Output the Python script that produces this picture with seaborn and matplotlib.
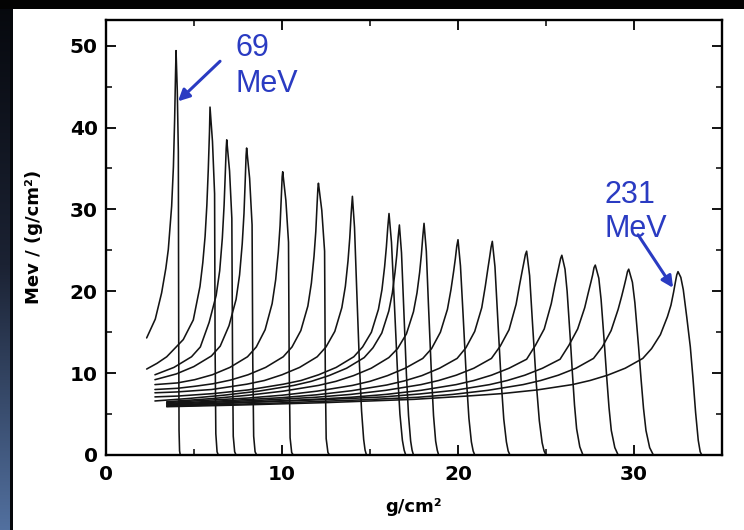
import matplotlib
matplotlib.use("Agg")
import matplotlib.pyplot as plt
from matplotlib.colors import LinearSegmentedColormap
from matplotlib.patches import Rectangle
from matplotlib.ticker import MultipleLocator
import numpy as np
import pandas as pd
import seaborn as sns

# Depth-dose (Bragg) curves: depth in g/cm^2, stopping power in MeV/(g/cm^2),
# from the 69 MeV beam (c01) up to the 231 MeV beam (c17).
c01_x = [2.31, 2.8, 3.16, 3.4, 3.54, 3.73, 3.83, 3.9, 3.95, 3.98, 4.05, 4.11, 4.13, 4.15, 4.18, 4.22]
c01_y = [14.3, 16.6, 19.8, 22.8, 25.1, 30.4, 35.2, 41.0, 46.5, 49.4, 44.5, 37.1, 14.8, 3.0, 0.5, 0.0]

c02_x = [2.31, 2.9, 3.45, 4.39, 4.96, 5.34, 5.5, 5.63, 5.73, 5.81, 5.88, 5.91, 6.05, 6.17, 6.20, 6.24, 6.31, 6.38]
c02_y = [10.5, 11.2, 12.0, 14.1, 16.5, 20.6, 23.5, 26.7, 30.5, 34.8, 39.5, 42.5, 38.3, 31.9, 12.8, 2.6, 0.4, 0.0]

c03_x = [2.78, 3.86, 4.86, 5.36, 5.86, 6.26, 6.46, 6.61, 6.71, 6.78, 6.83, 6.86, 7.02, 7.15, 7.19, 7.23, 7.31, 7.39]
c03_y = [9.8, 10.7, 12.0, 13.2, 16.2, 19.5, 22.5, 26.5, 30.5, 34.5, 37.5, 38.5, 34.7, 28.9, 11.6, 2.3, 0.4, 0.0]

c04_x = [2.78, 3.99, 4.99, 5.99, 6.49, 6.99, 7.39, 7.59, 7.74, 7.84, 7.91, 7.96, 7.99, 8.16, 8.30, 8.34, 8.39, 8.47, 8.56]
c04_y = [9.2, 9.9, 10.8, 12.1, 13.3, 15.8, 19.0, 22.0, 25.8, 29.5, 33.5, 36.6, 37.5, 33.8, 28.1, 11.3, 2.3, 0.4, 0.0]

c05_x = [2.78, 4.04, 5.04, 6.04, 7.04, 8.04, 8.54, 9.04, 9.44, 9.64, 9.79, 9.89, 9.96, 10.01, 10.04,
         10.22, 10.37, 10.41, 10.46, 10.55, 10.64]
c05_y = [8.6, 8.8, 9.2, 9.8, 10.7, 12.0, 13.2, 15.3, 18.5, 21.4, 24.8, 28.0, 31.5, 34.0, 34.6,
         31.1, 26.0, 10.4, 2.1, 0.3, 0.0]

c06_x = [2.78, 4.07, 5.07, 6.07, 7.07, 8.07, 9.07, 10.07, 10.57, 11.07, 11.47, 11.67, 11.82, 11.92, 11.99,
         12.04, 12.07, 12.26, 12.42, 12.46, 12.51, 12.61, 12.70]
c06_y = [8.0, 8.15, 8.4, 8.7, 9.15, 9.8, 10.7, 12.0, 13.2, 15.2, 18.2, 21.0, 24.3, 27.3, 30.5,
         32.6, 33.2, 29.9, 24.9, 10.0, 2.0, 0.3, 0.0]

c07_x = [2.78, 4.0, 6.0, 8.0, 9.0, 10.0, 11.0, 12.0, 12.5, 13.0, 13.4, 13.6, 13.75, 13.85, 13.93, 14.0,
         14.12, 14.24, 14.40, 14.52, 14.64, 14.72, 14.80]
c07_y = [7.6, 7.7, 8.0, 8.65, 9.1, 9.8, 10.7, 12.0, 13.2, 15.1, 18.0, 20.6, 23.7, 26.5, 29.5, 31.6,
         27.8, 20.5, 11.1, 5.4, 1.9, 0.6, 0.0]

c08_x = [2.78, 4.08, 6.08, 8.08, 10.08, 11.08, 12.08, 13.08, 14.08, 14.58, 15.08, 15.48, 15.68, 15.83,
         15.93, 16.01, 16.08, 16.22, 16.37, 16.56, 16.70, 16.84, 16.94, 17.03]
c08_y = [7.1, 7.2, 7.5, 7.95, 8.65, 9.1, 9.8, 10.7, 12.0, 13.2, 15.0, 17.8, 20.2, 23.0,
         25.4, 27.8, 29.5, 26.0, 19.2, 10.3, 5.0, 1.8, 0.6, 0.0]

c09_x = [2.78, 4.67, 6.67, 8.67, 10.67, 11.67, 12.67, 13.67, 14.67, 15.17, 15.67, 16.07, 16.27, 16.42,
         16.52, 16.60, 16.67, 16.79, 16.91, 17.07, 17.19, 17.31, 17.39, 17.47]
c09_y = [6.6, 6.9, 7.3, 7.8, 8.5, 9.0, 9.7, 10.6, 11.9, 13.1, 14.9, 17.6, 19.8, 22.3,
         24.4, 26.6, 28.1, 24.7, 18.3, 9.8, 4.8, 1.7, 0.6, 0.0]

c10_x = [3.45, 6.07, 8.07, 10.07, 12.07, 13.07, 14.07, 15.07, 16.07, 16.57, 17.07, 17.47, 17.67, 17.82,
         17.92, 18.00, 18.07, 18.20, 18.32, 18.49, 18.61, 18.73, 18.82, 18.90]
c10_y = [6.5, 6.9, 7.3, 7.8, 8.5, 9.0, 9.7, 10.6, 11.9, 13.0, 14.8, 17.5, 19.8, 22.3,
         24.5, 26.7, 28.3, 24.9, 18.4, 9.9, 4.8, 1.7, 0.6, 0.0]

c11_x = [3.45, 5.0, 8.0, 10.0, 12.0, 14.0, 15.0, 16.0, 17.0, 18.0, 18.5, 19.0, 19.4, 19.6, 19.75, 19.85,
         19.93, 20.0, 20.14, 20.29, 20.48, 20.62, 20.76, 20.86, 20.95]
c11_y = [6.4, 6.6, 6.95, 7.3, 7.8, 8.5, 9.0, 9.7, 10.6, 11.8, 13.0, 15.0, 17.8, 20.2, 22.4, 24.0,
         25.5, 26.3, 23.1, 17.1, 9.2, 4.5, 1.6, 0.5, 0.0]

c12_x = [3.45, 6.95, 9.95, 11.95, 13.95, 15.95, 16.95, 17.95, 18.95, 19.95, 20.45, 20.95, 21.35, 21.55,
         21.70, 21.80, 21.88, 21.95, 22.10, 22.25, 22.45, 22.60, 22.75, 22.85, 22.95]
c12_y = [6.3, 6.65, 7.0, 7.35, 7.85, 8.55, 9.05, 9.7, 10.6, 11.8, 13.1, 15.1, 18.0, 20.6,
         22.8, 24.2, 25.4, 26.1, 23.0, 17.0, 9.1, 4.4, 1.6, 0.5, 0.0]

c13_x = [3.45, 8.9, 11.9, 13.9, 15.9, 17.9, 18.9, 19.9, 20.9, 21.9, 22.4, 22.9, 23.3, 23.5, 23.65, 23.75,
         23.83, 23.90, 24.07, 24.23, 24.45, 24.62, 24.78, 24.89, 25.00]
c13_y = [6.2, 6.7, 7.05, 7.4, 7.9, 8.6, 9.1, 9.75, 10.6, 11.8, 13.3, 15.3, 18.4, 20.8, 22.5, 23.6,
         24.5, 24.9, 21.9, 16.2, 8.7, 4.2, 1.5, 0.5, 0.0]

c14_x = [3.45, 10.9, 13.9, 15.9, 17.9, 19.9, 20.9, 21.9, 22.9, 23.9, 24.4, 24.9, 25.3, 25.5, 25.65, 25.75,
         25.83, 25.90, 26.08, 26.20, 26.38, 26.50, 26.62, 26.74, 26.92, 27.10]
c14_y = [6.1, 6.7, 7.05, 7.4, 7.9, 8.6, 9.1, 9.75, 10.6, 11.7, 13.4, 15.4, 18.5, 20.7, 22.2, 23.2,
         24.0, 24.4, 22.7, 20.0, 14.2, 10.0, 6.1, 3.2, 1.0, 0.0]

c15_x = [3.45, 7.8, 12.8, 15.8, 17.8, 19.8, 21.8, 22.8, 23.8, 24.8, 25.8, 26.3, 26.8, 27.2, 27.4, 27.55,
         27.65, 27.73, 27.80, 28.00, 28.13, 28.32, 28.45, 28.58, 28.71, 28.91, 29.10]
c15_y = [6.0, 6.4, 6.8, 7.1, 7.45, 7.9, 8.6, 9.1, 9.75, 10.6, 11.7, 13.4, 15.4, 18.0, 19.8, 21.1,
         22.0, 22.9, 23.2, 21.6, 19.0, 13.5, 9.5, 5.8, 3.0, 0.9, 0.0]

c16_x = [3.45, 9.7, 14.7, 17.7, 19.7, 21.7, 23.7, 24.7, 25.7, 26.7, 27.7, 28.2, 28.7, 29.1, 29.3, 29.45,
         29.55, 29.63, 29.70, 29.91, 30.05, 30.26, 30.40, 30.54, 30.68, 30.89, 31.10]
c16_y = [5.95, 6.35, 6.75, 7.05, 7.4, 7.9, 8.6, 9.1, 9.75, 10.6, 11.8, 13.2, 15.2, 17.8, 19.4, 20.7,
         21.6, 22.4, 22.7, 21.1, 18.6, 13.2, 9.3, 5.7, 3.0, 0.9, 0.0]

c17_x = [3.45, 7.5, 12.5, 17.5, 20.5, 22.5, 24.5, 26.5, 27.5, 28.5, 29.5, 30.5, 31.0, 31.5, 31.9, 32.1,
         32.25, 32.35, 32.43, 32.50, 32.66, 32.80, 33.00, 33.20, 33.35, 33.50, 33.65, 33.76, 33.85]
c17_y = [5.9, 6.1, 6.4, 6.8, 7.2, 7.5, 7.95, 8.6, 9.1, 9.75, 10.6, 11.8, 13.0, 14.7, 16.9, 18.3,
         19.9, 21.1, 22.0, 22.4, 21.7, 20.2, 16.8, 13.2, 9.4, 5.2, 1.8, 0.4, 0.0]

x_ticks = [0, 10, 20, 30]
y_ticks = [0, 10, 20, 30, 40, 50]
x_tick_labels = ["0", "10", "20", "30"]
y_tick_labels = ["0", "10", "20", "30", "40", "50"]

low_label = ("69", "MeV")
high_label = ("231", "MeV")

curves = [
    (c01_x, c01_y), (c02_x, c02_y), (c03_x, c03_y), (c04_x, c04_y), (c05_x, c05_y),
    (c06_x, c06_y), (c07_x, c07_y), (c08_x, c08_y), (c09_x, c09_y), (c10_x, c10_y),
    (c11_x, c11_y), (c12_x, c12_y), (c13_x, c13_y), (c14_x, c14_y), (c15_x, c15_y),
    (c16_x, c16_y), (c17_x, c17_y),
]
frames = []
for i, (xs, ys) in enumerate(curves):
    frames.append(pd.DataFrame({"depth": xs, "dose": ys, "curve": i}))
df = pd.concat(frames, ignore_index=True)

sns.set_style("ticks")
plt.rcParams["font.family"] = ["DejaVu Sans"]
plt.rcParams["text.color"] = "black"
plt.rcParams["axes.labelcolor"] = "black"
plt.rcParams["xtick.color"] = "black"
plt.rcParams["ytick.color"] = "black"

W, H = 744, 530
fig = plt.figure(figsize=(W / 100, H / 100), dpi=100, facecolor="white")

# slide frame: dark band on top, blue gradient strip on the left
strip = fig.add_axes([0, 0, 10 / W, 1])
grad = np.linspace(0, 1, 256).reshape(-1, 1)
cmap = LinearSegmentedColormap.from_list("strip", ["#06080d", "#1b2233", "#52709f"])
strip.imshow(grad, aspect="auto", cmap=cmap, extent=[0, 1, 0, 1], origin="upper")
strip.set_axis_off()
fig.patches.append(Rectangle((10 / W, 0), 2.5 / W, 1, transform=fig.transFigure,
                             facecolor="#05070a", edgecolor="none", zorder=5))
fig.patches.append(Rectangle((0, 1 - 9 / H), 1, 9 / H, transform=fig.transFigure,
                             facecolor="#030303", edgecolor="none", zorder=5))

ax = fig.add_axes([106 / W, 1 - 455 / H, 616 / W, 435.5 / H])
ax.set_facecolor("white")

sns.lineplot(data=df, x="depth", y="dose", units="curve", estimator=None, sort=False,
             color="#141414", linewidth=1.15, ax=ax, legend=False)

ax.set_xlim(0, 35)
ax.set_ylim(0, 53.2)

ax.set_xticks(x_ticks, labels=x_tick_labels, fontsize=14.5, fontweight="bold", color="black")
ax.set_yticks(y_ticks, labels=y_tick_labels, fontsize=14.5, fontweight="bold", color="black")
ax.xaxis.set_minor_locator(MultipleLocator(5))
ax.yaxis.set_minor_locator(MultipleLocator(5))
ax.tick_params(which="major", direction="in", length=7, width=1.3, color="black",
               labelcolor="black", top=True, right=True)
ax.tick_params(axis="x", which="major", pad=7)
ax.tick_params(axis="y", which="major", pad=6)
ax.tick_params(which="minor", direction="in", length=4, width=1.1, color="black",
               top=True, right=True)
for s in ax.spines.values():
    s.set_visible(True)
    s.set_color("black")
    s.set_linewidth(1.7)

ax.set_xlabel("g/cm²", fontsize=13, fontweight="bold", labelpad=10, color="black")
ax.set_ylabel("Mev / (g/cm²)", fontsize=13, fontweight="bold", labelpad=19, color="black")

blue = "#2a3bc2"
afont = dict(color=blue, fontsize=22, family=["Liberation Sans", "DejaVu Sans"], va="baseline")
ax.text(7.33, 48.7, low_label[0], **afont)
ax.text(7.33, 44.3, low_label[1], **afont)
ax.text(28.35, 30.8, high_label[0], **afont)
ax.text(28.35, 26.6, high_label[1], **afont)

arrow = dict(arrowstyle="-|>", color=blue, lw=2.2, mutation_scale=17, shrinkA=0, shrinkB=0)
ax.annotate("", xy=(4.09, 43.2), xytext=(6.48, 48.1), arrowprops=arrow)
ax.annotate("", xy=(32.22, 20.42), xytext=(30.23, 26.9), arrowprops=arrow)

fig.savefig("out.png", dpi=100, facecolor=fig.get_facecolor())
